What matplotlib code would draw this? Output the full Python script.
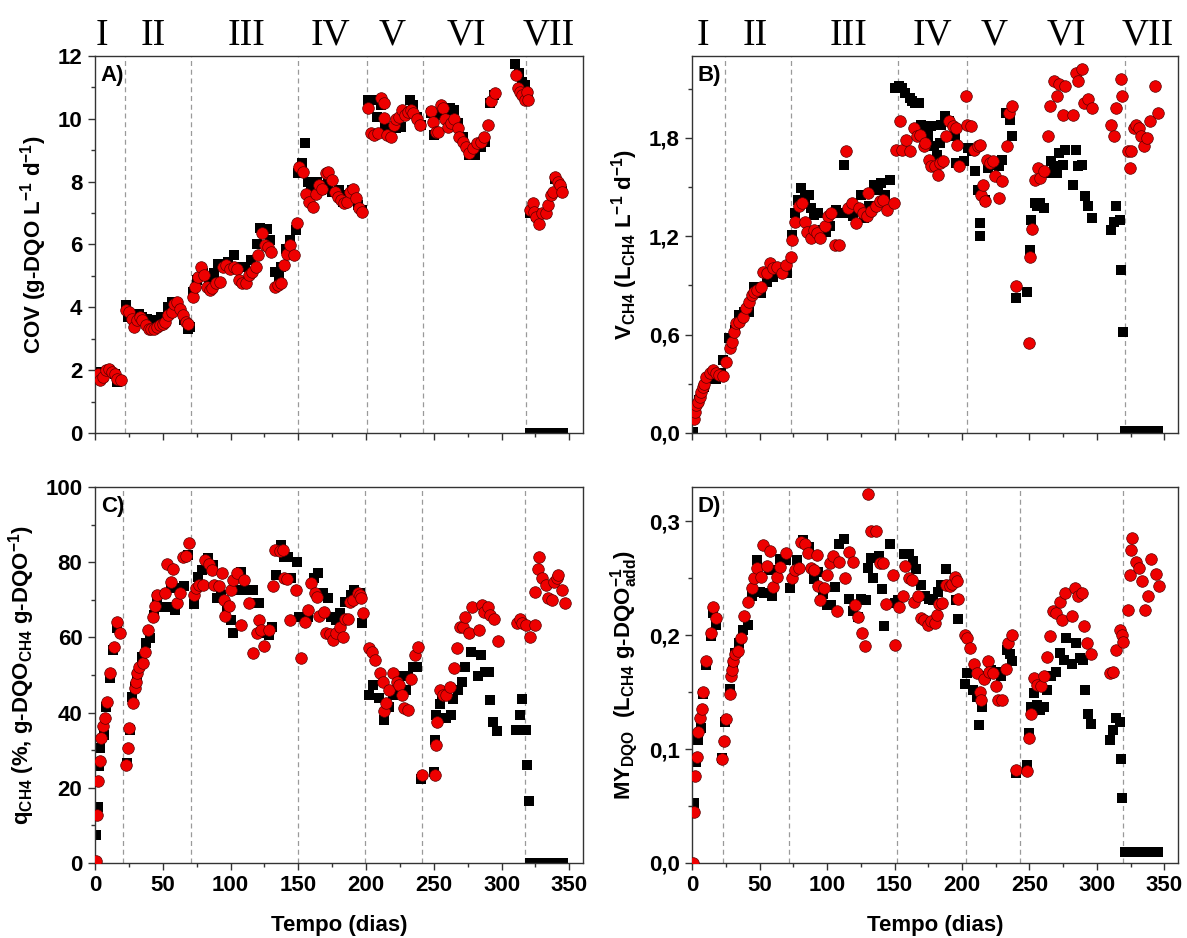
import matplotlib
matplotlib.use("Agg")
import matplotlib.pyplot as plt
from matplotlib.ticker import MultipleLocator, FuncFormatter

plt.rcParams['font.family'] = ['Liberation Sans', 'DejaVu Sans']
plt.rcParams['font.weight'] = 'bold'
plt.rcParams['axes.labelweight'] = 'bold'
plt.rcParams['mathtext.fontset'] = 'custom'
plt.rcParams['mathtext.default'] = 'bf'
plt.rcParams['mathtext.bf'] = 'Liberation Sans:bold'
plt.rcParams['mathtext.rm'] = 'Liberation Sans:bold'

# ---- data (day, value) ----
# bar of zero values at the end of phase VII
bar_days = [321, 323, 325, 327, 329, 331, 333, 335, 337, 339, 341, 343, 345]

# A) COV
a_red = [(2.0, 1.89), (4.0, 1.68), (6.2, 1.78), (8.5, 2.0), (10.5, 2.05), (12.4, 1.94), (14.7, 1.89), (16.1, 1.73), (18.9, 1.68),
         (22.6, 3.9), (25.4, 3.85), (27.4, 3.64), (28.8, 3.38), (31.1, 3.6), (33.1, 3.7), (35.0, 3.6), (37.3, 3.44), (39.5, 3.32),
         (41.5, 3.32), (43.5, 3.32), (45.8, 3.38), (48.0, 3.44), (50.0, 3.48), (52.0, 3.54), (54.2, 3.75), (56.5, 3.85), (58.5, 4.12),
         (60.5, 4.17), (62.7, 3.96), (65.0, 3.75), (66.9, 3.54), (68.9, 3.48),
         (72.6, 4.33), (74.0, 4.65), (76.3, 4.97), (78.2, 5.29), (80.2, 5.02), (82.5, 4.65), (84.7, 4.54), (86.7, 4.6), (89.5, 4.76),
         (92.4, 4.81), (94.4, 5.29), (96.6, 5.34), (99.4, 5.23), (102.3, 5.29), (104.5, 5.23), (106.5, 4.86), (108.5, 4.76), (111.3, 4.76),
         (113.6, 5.02), (115.8, 5.13), (118.6, 5.29), (120.6, 5.66), (123.4, 6.35), (125.7, 5.98), (127.7, 5.93), (129.9, 5.77),
         (132.8, 4.65), (135.0, 4.7), (137.0, 4.76), (139.5, 5.34), (141.8, 5.71), (144.1, 5.98), (146.9, 5.66), (148.9, 6.69),
         (150.8, 8.47), (153.7, 8.31), (155.9, 7.62), (158.2, 7.36), (161.0, 7.2), (163.0, 7.62), (165.3, 7.89), (167.8, 7.78),
         (170.1, 8.26), (172.0, 8.31), (174.6, 8.05), (176.8, 7.68), (179.1, 7.52), (181.4, 7.41), (183.6, 7.31), (185.9, 7.36),
         (188.1, 7.68), (190.4, 7.78), (192.7, 7.47), (194.9, 7.15), (197.2, 7.04),
         (201.7, 10.33), (204.0, 9.54), (206.2, 9.48), (209.0, 9.54), (211.3, 10.65), (213.6, 10.49), (213.0, 10.04), (215.3, 9.48),
         (218.1, 9.43), (220.3, 9.8), (222.3, 10.01), (224.6, 10.07), (226.6, 10.28), (228.8, 10.12), (231.1, 10.23), (232.8, 10.28),
         (235.0, 10.17), (237.3, 10.01), (239.8, 9.8),
         (247.7, 10.25), (249.2, 9.9), (251.4, 9.59), (253.4, 9.59), (255.4, 10.44), (257.1, 10.33), (258.2, 9.98), (260.5, 9.75),
         (262.7, 9.86), (264.7, 10.01), (267.5, 9.7), (268.9, 9.43), (271.8, 9.27), (274.0, 9.11), (276.0, 8.9), (278.8, 9.06),
         (281.6, 9.22), (284.5, 9.27), (287.3, 9.43), (290.1, 9.8), (292.1, 10.58), (294.9, 10.83),
         (310.4, 11.39), (311.8, 10.97), (313.5, 10.86), (315.2, 10.76), (317.5, 10.6), (318.6, 10.86), (319.8, 10.6),
         (321.2, 7.09), (323.2, 7.31), (324.0, 7.04), (325.4, 6.88), (327.7, 6.65), (329.7, 6.99), (332.5, 6.99), (334.5, 7.25),
         (336.2, 7.57), (338.1, 7.68), (339.5, 8.16), (341.8, 8.0), (343.2, 7.89), (344.6, 7.68)]
a_black = [(2.0, 1.94), (6.2, 1.78), (10.5, 2.0), (14.7, 1.89), (16.1, 1.62), (18.1, 1.68),
           (22.6, 4.07), (24.6, 3.7), (27.4, 3.75), (30.2, 3.8), (32.2, 3.8), (34.5, 3.7), (38.7, 3.64), (41.5, 3.59), (45.8, 3.59),
           (48.6, 3.7), (54.2, 4.0), (57.1, 4.17), (61.3, 3.9), (65.5, 3.59), (68.4, 3.32), (70.3, 3.38),
           (72.0, 4.49), (75.4, 4.86), (79.7, 5.08), (83.9, 4.76), (88.1, 5.08), (91.0, 5.39), (93.8, 5.34), (98.0, 5.45), (102.3, 5.66),
           (105.1, 5.29), (110.7, 5.29), (115.0, 5.5), (119.8, 6.03), (122.0, 6.51), (127.1, 6.48), (129.1, 6.14), (132.8, 5.13),
           (135.6, 4.97), (137.6, 5.29), (141.2, 5.87), (143.8, 6.14), (148.0, 6.46),
           (149.7, 8.26), (153.1, 8.58), (155.1, 9.24), (157.3, 8.0), (159.3, 7.78), (163.8, 8.0), (166.7, 7.73), (168.9, 7.89),
           (171.8, 8.0), (174.6, 7.68), (177.4, 7.68), (180.2, 7.73), (183.1, 7.36), (185.9, 7.57), (189.8, 7.73), (194.1, 7.25), (196.9, 7.09),
           (201.1, 10.6), (204.5, 10.6), (208.2, 10.07), (211.0, 10.44), (213.8, 9.7), (218.1, 9.7), (222.3, 9.7), (226.0, 9.75),
           (228.8, 10.23), (232.2, 10.6), (235.0, 10.44), (237.9, 10.07), (240.7, 9.8),
           (247.7, 10.17), (250.0, 9.48), (253.4, 10.12), (257.6, 10.28), (261.9, 10.33), (264.7, 10.28), (267.5, 9.86), (271.8, 9.43),
           (276.0, 8.85), (280.2, 8.85), (284.5, 9.11), (288.1, 9.27), (291.5, 10.49), (294.4, 10.76),
           (309.8, 11.73), (313.2, 11.45), (315.2, 11.18), (317.5, 11.08), (319.5, 10.76),
           (321.2, 7.0), (325.4, 6.9), (332.5, 7.0), (339.5, 8.1), (344.6, 7.7)]
a_zero = [0.0] * len(bar_days)

# B) V CH4
b_red = [(1.1, 0.085), (2.0, 0.128), (2.8, 0.169), (4.2, 0.19), (5.6, 0.22), (7.0, 0.25), (8.2, 0.28), (9.0, 0.30), (10.4, 0.34),
         (13.2, 0.363), (15.2, 0.383), (17.4, 0.363), (20.3, 0.353), (23.1, 0.347), (25.0, 0.434),
         (28.1, 0.516), (29.3, 0.557), (31.0, 0.618), (32.4, 0.669), (34.9, 0.679), (37.7, 0.709), (40.0, 0.76), (42.2, 0.80),
         (44.2, 0.842), (46.1, 0.862), (48.4, 0.873), (51.2, 0.893), (52.6, 0.985), (55.4, 0.975), (57.7, 1.036), (60.2, 1.005),
         (63.0, 1.015), (66.7, 0.975), (69.5, 1.025), (73.2, 1.076),
         (74.3, 1.178), (76.5, 1.29), (79.3, 1.382), (81.3, 1.403), (83.6, 1.29), (85.5, 1.229), (87.8, 1.189), (90.6, 1.24),
         (92.9, 1.219), (95.1, 1.189), (98.5, 1.26), (100.5, 1.321), (103.3, 1.342), (106.1, 1.148), (108.9, 1.148), (113.7, 1.719),
         (115.9, 1.372), (118.7, 1.403), (121.6, 1.28), (123.8, 1.372), (126.6, 1.342), (129.4, 1.321), (130.5, 1.464), (132.8, 1.352),
         (136.1, 1.382), (138.9, 1.413), (141.8, 1.423), (144.6, 1.362), (149.7, 1.403),
         (151.1, 1.729), (153.9, 1.902), (155.9, 1.729), (158.7, 1.79), (161.5, 1.719), (164.3, 1.861), (166.6, 1.81), (168.8, 1.821),
         (171.6, 1.749), (172.8, 1.77), (175.6, 1.668), (177.3, 1.627), (180.1, 1.627), (182.0, 1.576), (184.0, 1.647), (185.7, 1.657),
         (188.2, 1.81), (190.5, 1.902), (193.3, 1.872), (195.3, 1.861), (196.1, 1.759), (197.5, 1.627), (202.6, 2.055),
         (203.7, 1.882), (206.5, 1.872), (208.8, 1.729), (211.6, 1.749), (213.0, 1.759), (214.4, 1.454), (215.8, 1.515), (217.3, 1.413),
         (218.6, 1.668), (220.6, 1.647), (222.8, 1.657), (224.3, 1.566), (227.1, 1.433), (229.9, 1.535), (233.5, 1.749), (234.9, 1.953),
         (236.9, 1.994), (240.3, 0.897),
         (249.6, 0.546), (250.4, 1.076), (251.5, 1.244), (253.8, 1.545), (256.1, 1.617), (258.0, 1.556), (260.8, 1.596), (263.6, 1.81),
         (265.1, 1.994), (267.9, 2.147), (270.1, 2.055), (272.1, 2.127), (274.9, 1.943), (276.3, 2.117), (281.9, 1.943), (284.2, 2.198),
         (286.2, 2.147), (289.0, 2.218), (290.4, 2.014), (293.2, 2.035), (296.0, 1.984),
         (310.6, 1.876), (312.3, 1.81), (314.3, 1.984), (317.7, 2.157), (318.5, 2.055), (322.7, 1.719), (324.1, 1.617), (325.5, 1.719),
         (327.5, 1.861), (329.2, 1.882), (331.2, 1.861), (332.6, 1.81), (334.8, 1.749), (336.8, 1.8), (339.6, 1.902), (343.3, 2.12),
         (345.3, 1.953)]
b_black = [(0.6, 0.006), (4.8, 0.2), (9.0, 0.281), (14.1, 0.332), (17.4, 0.332), (21.7, 0.363), (23.1, 0.444),
           (27.3, 0.577), (31.5, 0.628), (34.9, 0.72), (38.5, 0.74), (42.2, 0.74), (45.6, 0.893), (47.8, 0.852), (51.2, 0.852),
           (55.4, 0.924), (59.7, 0.954), (63.9, 0.985), (68.1, 0.985), (70.1, 0.975),
           (73.7, 1.209), (76.5, 1.342), (78.8, 1.423), (80.8, 1.494), (83.6, 1.433), (86.4, 1.454), (87.8, 1.372), (90.6, 1.331),
           (93.4, 1.342), (96.8, 1.24), (99.0, 1.229), (102.4, 1.26), (106.9, 1.362), (108.9, 1.342), (112.5, 1.637), (115.9, 1.342),
           (119.3, 1.321), (124.9, 1.454), (127.2, 1.311), (131.4, 1.382), (135.1, 1.515), (137.9, 1.484), (139.8, 1.525),
           (142.7, 1.454), (146.9, 1.545),
           (150.3, 2.106), (153.1, 2.116), (155.9, 2.106), (158.1, 2.075), (161.5, 2.045), (163.2, 2.024), (165.2, 2.014), (168.0, 2.014),
           (169.9, 1.882), (172.2, 1.841), (175.0, 1.81), (177.3, 1.872), (179.2, 1.749), (181.2, 1.698), (183.5, 1.77), (184.8, 1.882),
           (187.7, 1.933), (190.5, 1.902), (194.7, 1.81), (195.3, 1.647), (201.7, 1.657),
           (204.6, 1.739), (207.4, 1.719), (209.3, 1.596), (211.6, 1.484), (213.0, 1.28), (213.0, 1.199), (217.3, 1.423), (219.5, 1.617),
           (222.3, 1.637), (224.3, 1.647), (227.1, 1.627), (229.9, 1.668), (232.7, 1.953), (235.5, 1.912), (236.9, 1.81), (239.7, 0.822),
           (248.2, 0.862), (250.1, 1.117), (251.0, 1.301), (253.8, 1.403), (255.2, 1.382), (258.0, 1.403), (260.8, 1.372), (263.6, 1.586),
           (265.6, 1.657), (267.9, 1.627), (270.1, 1.586), (272.1, 1.708), (274.9, 1.637), (276.3, 1.729), (281.9, 1.515), (284.2, 1.729),
           (285.6, 1.627), (289.0, 1.637), (290.9, 1.443), (293.2, 1.382), (296.0, 1.311),
           (310.1, 1.24), (312.3, 1.29), (314.3, 1.382), (317.1, 1.301), (317.7, 0.995), (319.1, 0.618)]
b_zero = [0.01] * len(bar_days)

# C) q CH4
c_red = [(0.6, 0.4), (1.7, 12.8), (2.3, 21.7), (3.4, 27.0), (4.3, 33.2), (6.3, 36.3), (7.7, 38.5), (9.1, 42.9), (11.1, 50.4),
         (13.9, 57.5), (16.2, 64.2), (18.2, 61.1),
         (22.7, 26.1), (24.1, 30.5), (25.3, 35.8), (28.1, 42.5), (29.5, 46.5), (30.4, 48.2), (31.3, 50.6), (32.4, 52.2), (35.2, 53.1),
         (37.0, 56.2), (38.9, 61.9), (42.6, 65.5), (44.6, 68.3), (46.0, 71.2), (51.7, 71.7), (53.1, 79.6), (56.0, 74.8), (57.9, 78.1),
         (60.2, 69.2), (63.1, 71.7), (65.3, 81.4), (67.3, 81.7), (69.6, 85.0),
         (73.0, 71.2), (74.4, 73.0), (76.7, 73.9), (79.5, 73.9), (81.5, 80.5), (84.4, 79.6), (86.6, 77.9), (88.1, 73.9), (91.5, 73.6),
         (93.5, 77.0), (94.9, 69.9), (95.7, 65.7), (98.6, 68.3), (100.0, 72.6), (102.0, 75.2), (105.1, 77.0), (107.9, 63.3),
         (109.9, 75.2), (113.6, 69.0), (116.5, 55.9), (119.3, 61.1), (121.3, 64.6), (122.7, 61.9), (125.0, 57.8), (128.4, 61.9),
         (131.3, 73.6), (132.7, 83.2), (136.4, 83.0), (138.4, 83.2), (139.8, 75.7), (142.0, 75.4), (144.0, 64.6), (148.3, 72.6),
         (152.0, 54.6),
         (154.8, 64.2), (156.8, 67.4), (159.1, 74.5), (162.5, 71.7), (163.9, 70.8), (165.3, 65.7), (168.8, 66.8), (170.5, 61.1),
         (173.3, 60.9), (175.3, 59.3), (177.6, 61.1), (181.0, 62.8), (183.2, 60.2), (184.4, 64.8), (186.6, 65.0), (188.1, 69.5),
         (190.3, 69.9), (193.8, 71.7), (195.7, 71.2), (196.6, 70.4), (198.0, 66.4),
         (202.3, 57.1), (204.5, 56.2), (206.5, 54.0), (210.2, 50.4), (212.2, 48.2), (213.6, 40.5), (214.5, 42.5), (217.0, 46.0),
         (219.9, 50.4), (222.7, 48.2), (224.4, 47.3), (226.4, 44.7), (227.8, 41.2), (230.7, 40.7), (233.5, 48.8), (235.8, 55.3),
         (238.1, 57.5), (241.5, 23.5),
         (250.6, 23.5), (251.4, 31.4), (252.0, 37.6), (254.8, 46.0), (256.8, 44.7), (259.1, 44.7), (262.0, 46.9), (264.8, 51.8),
         (267.0, 57.1), (269.0, 62.8), (271.3, 62.8), (273.3, 65.5), (276.1, 61.1), (278.4, 68.1), (283.2, 61.9), (285.2, 68.6),
         (286.9, 66.8), (289.8, 68.1), (291.8, 65.9), (294.6, 65.0), (297.4, 59.0),
         (311.6, 63.7), (313.6, 64.8), (315.3, 63.7), (318.2, 63.3), (320.7, 60.2), (324.4, 63.3), (325.0, 72.1), (326.7, 78.3),
         (327.8, 81.4), (330.1, 75.7), (332.4, 73.9), (334.4, 70.4), (337.2, 69.9), (338.6, 74.8), (340.6, 75.7), (341.5, 76.5),
         (344.3, 72.6), (346.6, 69.2)]
c_black = [(1.1, 7.5), (2.3, 15.0), (2.8, 25.7), (4.0, 30.5), (6.8, 34.1), (8.5, 41.6), (11.1, 49.1), (13.4, 56.6), (16.2, 62.4),
           (23.3, 26.7), (26.1, 35.4), (27.6, 44.2), (29.5, 46.9), (31.3, 49.6), (34.7, 54.9), (37.5, 58.4), (40.9, 59.7), (43.2, 65.9),
           (46.0, 70.8), (50.3, 68.1), (54.0, 68.1), (56.0, 73.0), (58.8, 67.3), (63.1, 73.0), (65.9, 73.6), (68.8, 81.9),
           (73.0, 68.8), (75.9, 76.1), (78.7, 77.9), (83.5, 81.0), (87.2, 79.2), (90.1, 70.4), (92.9, 71.2), (97.2, 68.1), (100.0, 64.6),
           (102.0, 61.1), (105.1, 72.6), (107.9, 77.4), (110.8, 72.6), (113.6, 72.6), (116.5, 72.6), (118.5, 69.0), (121.3, 69.0),
           (124.1, 61.1), (128.4, 60.6), (130.7, 62.8), (133.5, 76.5), (136.9, 84.5), (139.2, 81.4), (142.6, 81.4), (144.9, 75.7),
           (148.9, 80.1), (150.6, 65.5),
           (156.8, 65.5), (161.9, 75.7), (164.8, 77.0), (168.2, 71.9), (171.6, 70.4), (174.4, 65.5), (177.6, 64.6), (181.0, 66.5),
           (184.7, 69.5), (188.6, 71.2), (190.9, 72.6), (195.2, 71.7), (197.2, 63.7),
           (202.3, 44.7), (205.1, 47.3), (209.4, 43.8), (213.6, 38.1), (217.0, 41.6), (219.9, 44.7), (223.6, 45.1), (226.4, 49.6),
           (229.3, 46.0), (231.2, 49.7), (234.9, 52.2), (237.8, 52.2), (240.6, 22.3),
           (250.0, 24.3), (250.6, 32.7), (251.4, 39.4), (254.8, 42.2), (256.3, 44.7), (259.1, 38.5), (262.5, 39.4), (264.2, 43.5),
           (267.6, 46.0), (270.5, 48.2), (273.3, 52.2), (277.6, 56.2), (282.4, 49.6), (284.7, 55.3), (287.5, 50.9), (290.9, 50.9),
           (291.8, 43.4), (294.0, 37.6), (296.9, 35.0),
           (310.8, 35.4), (313.6, 39.4), (315.1, 43.5), (318.2, 35.4), (318.8, 26.1), (320.2, 16.4)]
c_zero = [0.0] * len(bar_days)

# D) MY DQO
d_red = [(0.6, 0.0), (1.4, 0.045), (2.3, 0.076), (3.4, 0.093), (4.2, 0.115), (6.2, 0.127), (7.6, 0.135), (8.5, 0.15), (10.4, 0.177),
         (14.1, 0.202), (15.2, 0.225), (17.5, 0.215),
         (22.5, 0.091), (23.7, 0.107), (25.1, 0.126), (27.9, 0.148), (28.7, 0.164), (29.6, 0.169), (30.4, 0.177), (31.6, 0.183),
         (34.4, 0.186), (36.6, 0.197), (38.6, 0.217), (41.4, 0.229), (44.2, 0.241), (45.6, 0.25), (48.5, 0.259), (51.3, 0.251),
         (52.7, 0.279), (55.5, 0.261), (57.8, 0.274), (59.7, 0.242), (62.6, 0.251), (65.4, 0.26), (69.6, 0.272),
         (73.8, 0.25), (76.1, 0.257), (78.9, 0.259), (80.9, 0.282), (83.7, 0.28), (85.7, 0.272), (87.9, 0.259), (90.7, 0.257),
         (92.7, 0.27), (93.5, 0.243), (95.0, 0.231), (97.8, 0.241), (99.7, 0.253), (101.9, 0.263), (104.3, 0.269), (107.1, 0.221),
         (109.0, 0.264), (113.3, 0.25), (116.2, 0.273), (119.0, 0.264), (120.9, 0.226), (123.1, 0.216), (126.0, 0.202), (127.9, 0.19),
         (130.2, 0.324), (132.9, 0.291), (136.4, 0.291), (139.2, 0.263), (141.4, 0.263), (143.7, 0.227), (148.8, 0.253), (150.5, 0.191),
         (153.3, 0.225), (156.1, 0.234), (157.7, 0.261), (160.6, 0.25), (162.6, 0.248), (164.6, 0.229), (167.4, 0.234), (169.6, 0.215),
         (171.9, 0.213), (174.7, 0.209), (176.7, 0.212), (180.3, 0.211), (181.5, 0.218), (183.2, 0.227), (185.1, 0.228), (187.9, 0.244),
         (190.8, 0.243), (192.7, 0.245), (194.9, 0.251), (196.4, 0.247), (197.2, 0.232),
         (202.0, 0.2), (204.0, 0.197), (205.7, 0.189), (209.1, 0.175), (211.3, 0.167), (213.3, 0.15), (214.1, 0.143), (216.1, 0.161),
         (219.0, 0.177), (220.3, 0.168), (222.6, 0.167), (225.4, 0.155), (226.5, 0.143), (229.4, 0.143), (232.5, 0.17), (234.4, 0.193),
         (236.7, 0.2), (240.1, 0.082),
         (248.5, 0.081), (249.9, 0.11), (250.8, 0.131), (253.6, 0.162), (255.6, 0.156), (258.4, 0.155), (260.4, 0.164), (262.6, 0.181),
         (265.4, 0.199), (267.7, 0.221), (269.7, 0.219), (272.5, 0.229), (274.4, 0.213), (276.1, 0.237), (281.8, 0.217), (283.8, 0.241),
         (285.7, 0.234), (288.6, 0.237), (290.3, 0.208), (292.3, 0.193), (295.9, 0.183),
         (309.9, 0.167), (311.9, 0.168), (313.9, 0.187), (316.8, 0.204), (318.5, 0.2), (319.6, 0.194), (323.2, 0.222), (324.1, 0.253),
         (325.2, 0.275), (326.0, 0.285), (328.9, 0.264), (330.8, 0.259), (333.0, 0.247), (335.9, 0.222), (337.8, 0.234), (340.1, 0.267),
         (343.8, 0.254), (345.7, 0.243)]
d_black = [(1.1, 0.053), (2.8, 0.089), (4.2, 0.108), (6.8, 0.118), (8.5, 0.148), (10.4, 0.174), (14.1, 0.199), (15.2, 0.219), (17.5, 0.209),
           (22.5, 0.092), (24.5, 0.124), (28.2, 0.153), (30.1, 0.174), (31.6, 0.184), (35.0, 0.193), (37.8, 0.204), (41.4, 0.209),
           (44.2, 0.234), (48.5, 0.266), (50.7, 0.238), (53.5, 0.237), (56.9, 0.257), (59.2, 0.234), (62.0, 0.257), (65.4, 0.267), (69.6, 0.266),
           (72.4, 0.241), (78.0, 0.266), (82.3, 0.283), (86.5, 0.277), (90.7, 0.249), (93.5, 0.255), (96.9, 0.236), (99.7, 0.226),
           (102.6, 0.226), (106.2, 0.242), (109.0, 0.28), (112.7, 0.284), (116.1, 0.232), (119.5, 0.221), (123.1, 0.216), (125.4, 0.232),
           (128.8, 0.231), (130.2, 0.259), (132.9, 0.268), (134.4, 0.25), (138.6, 0.269), (140.9, 0.24), (142.0, 0.208), (146.5, 0.28),
           (150.0, 0.228), (152.7, 0.231), (157.0, 0.271), (160.6, 0.271), (163.4, 0.265), (166.2, 0.258), (169.6, 0.244), (172.4, 0.234),
           (175.3, 0.232), (178.6, 0.231), (182.3, 0.238), (184.3, 0.244), (187.9, 0.258), (192.2, 0.244), (195.5, 0.231), (197.2, 0.214),
           (202.0, 0.157), (204.0, 0.167), (208.5, 0.152), (211.3, 0.146), (212.5, 0.121), (214.7, 0.137), (217.5, 0.164), (221.8, 0.169),
           (225.4, 0.168), (228.8, 0.164), (233.0, 0.187), (235.3, 0.183), (237.3, 0.177), (240.1, 0.079),
           (248.5, 0.086), (249.9, 0.114), (251.3, 0.137), (253.6, 0.149), (255.6, 0.139), (257.8, 0.134), (260.6, 0.137), (263.2, 0.152),
           (265.9, 0.164), (269.7, 0.168), (272.5, 0.184), (275.3, 0.178), (277.3, 0.197), (281.8, 0.175), (284.6, 0.193), (287.5, 0.18),
           (289.5, 0.178), (290.9, 0.152), (293.0, 0.131), (295.9, 0.122),
           (309.9, 0.108), (311.9, 0.117), (313.9, 0.127), (316.8, 0.124), (318.1, 0.091), (318.5, 0.057)]
d_zero = [0.01] * len(bar_days)

# phase boundaries (days) and roman numeral positions
a_phases = [22, 71, 150, 201, 242, 318]
b_phases = [24.5, 73, 152.5, 204, 320.5]
c_phases = [21, 71, 150, 199, 241, 317]
d_phases = [23, 72, 152, 203, 243, 319]
roman = ['I', 'II', 'III', 'IV', 'V', 'VI', 'VII']
a_roman_x = [5, 43, 112, 174, 219.5, 274, 334.5]
b_roman_x = [8, 47, 116, 178, 224, 277, 337.5]


def comma(v, pos):
    return f'{v:.1f}'.replace('.', ',')


def draw_panel(ax, red, black, zeros, phases, tag, ylim, major, minor, ylabel, fmt=None, xlabels=False):
    for p in phases:
        ax.axvline(p, color='#9a9a9a', ls=(0, (4, 3)), lw=0.9, zorder=1)
    bx = [t for t, v in black] + bar_days
    by = [v for t, v in black] + zeros
    ax.scatter(bx, by, marker='s', s=46, color='black', linewidths=0, zorder=2)
    ax.scatter([t for t, v in red], [v for t, v in red], marker='o', s=70,
               facecolor='#ee0000', edgecolor='#5a0000', linewidths=0.5, zorder=3)
    ax.set_xlim(0, 360)
    ax.set_ylim(*ylim)
    ax.xaxis.set_major_locator(MultipleLocator(50))
    ax.xaxis.set_minor_locator(MultipleLocator(25))
    ax.yaxis.set_major_locator(MultipleLocator(major))
    ax.yaxis.set_minor_locator(MultipleLocator(minor))
    if fmt:
        ax.yaxis.set_major_formatter(FuncFormatter(fmt))
    ax.tick_params(which='both', direction='out', top=False, right=False, width=1.0, color='#333333',
                   labelsize=16, pad=4)
    ax.tick_params(which='major', length=5)
    ax.tick_params(which='minor', length=3)
    if not xlabels:
        ax.tick_params(axis='x', labelbottom=False)
    else:
        ax.set_xlabel('Tempo (dias)', fontsize=16, labelpad=13)
    for s in ax.spines.values():
        s.set_color('#333333')
        s.set_linewidth(1.0)
    ax.set_ylabel(ylabel, fontsize=16, labelpad=6)
    ax.text(0.012, 0.975, tag, transform=ax.transAxes, fontsize=16, fontweight='bold', va='top', ha='left')


fig = plt.figure(figsize=(11.87, 9.38), dpi=100)
ax_a = fig.add_axes([0.0800, 0.5384, 0.4111, 0.4019])
ax_b = fig.add_axes([0.5830, 0.5384, 0.4094, 0.4019])
ax_c = fig.add_axes([0.0800, 0.0800, 0.4111, 0.4009])
ax_d = fig.add_axes([0.5830, 0.0800, 0.4094, 0.4009])

draw_panel(ax_a, a_red, a_black, a_zero, a_phases, 'A)', (0, 12), 2, 1,
           r'COV (g-DQO L$^{-1}$ d$^{-1}$)')
draw_panel(ax_b, b_red, b_black, b_zero, b_phases, 'B)', (0, 2.3), 0.6, 0.3,
           r'V$_{CH4}$ (L$_{CH4}$ L$^{-1}$ d$^{-1}$)', fmt=comma)
draw_panel(ax_c, c_red, c_black, c_zero, c_phases, 'C)', (0, 100), 20, 10,
           r'q$_{CH4}$ (%, g-DQO$_{CH4}$ g-DQO$^{-1}$)', xlabels=True)
draw_panel(ax_d, d_red, d_black, d_zero, d_phases, 'D)', (0, 0.33), 0.1, 0.05,
           r'MY$_{DQO}$  (L$_{CH4}$ g-DQO$^{-1}_{add}$)', fmt=comma, xlabels=True)

for ax, xs in [(ax_a, a_roman_x), (ax_b, b_roman_x)]:
    for lab, x in zip(roman, xs):
        ax.text(x, 1.03, lab, transform=ax.get_xaxis_transform(), ha='center', va='baseline',
                fontsize=27, fontweight='normal', family='Liberation Serif')

fig.savefig('out.png', dpi=100)
